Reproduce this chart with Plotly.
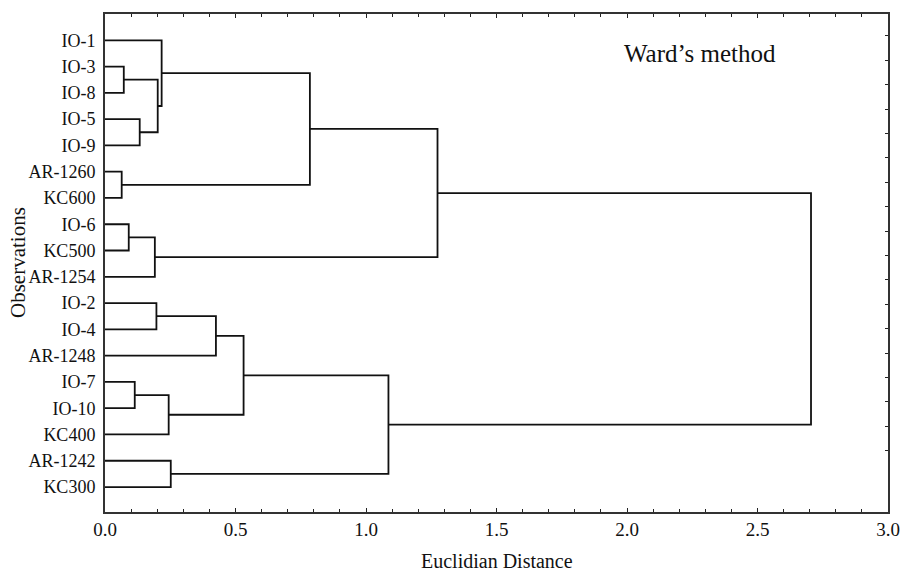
import plotly.graph_objects as go

# Leaves in display order (top to bottom)
leaves = ["IO-1", "IO-3", "IO-8", "IO-5", "IO-9", "AR-1260", "KC600", "IO-6", "KC500",
          "AR-1254", "IO-2", "IO-4", "AR-1248", "IO-7", "IO-10", "KC400", "AR-1242", "KC300"]

# Merges: (cluster name, left child, right child, Euclidean distance)
merge_names = ["A", "B", "C", "D", "E", "F", "G", "H", "I",
               "J", "K", "L", "M", "N", "O", "P", "ROOT"]
merge_left = ["IO-3", "IO-5", "A", "IO-1", "AR-1260", "D", "IO-6", "G", "F",
              "IO-2", "J", "IO-7", "L", "K", "AR-1242", "N", "I"]
merge_right = ["IO-8", "IO-9", "B", "C", "KC600", "E", "KC500", "AR-1254", "H",
               "IO-4", "AR-1248", "IO-10", "KC400", "M", "KC300", "O", "P"]
merge_height = [0.072, 0.133, 0.202, 0.217, 0.064, 0.785, 0.091, 0.191, 1.274,
                0.197, 0.425, 0.114, 0.244, 0.531, 0.252, 1.086, 2.705]

x_ticks = [0.0, 0.5, 1.0, 1.5, 2.0, 2.5, 3.0]
x_ticktext = ["0.0", "0.5", "1.0", "1.5", "2.0", "2.5", "3.0"]

# positions of nodes
pos = {name: i + 1 for i, name in enumerate(leaves)}
hgt = {name: 0.0 for name in leaves}
xs, ys = [], []
for name, l, r, h in zip(merge_names, merge_left, merge_right, merge_height):
    yl, yr = pos[l], pos[r]
    xs += [hgt[l], h, h, hgt[r], None]
    ys += [yl, yl, yr, yr, None]
    pos[name] = (yl + yr) / 2
    hgt[name] = h

fig = go.Figure()
fig.add_trace(go.Scatter(x=xs, y=ys, mode="lines",
                         line=dict(color="#111111", width=1.8),
                         hoverinfo="skip", showlegend=False))
# invisible trace on y2 for right-side tick marks
fig.add_trace(go.Scatter(x=[None], y=[None], yaxis="y2", showlegend=False))

font_serif = "Liberation Serif, Times New Roman, serif"

fig.update_layout(
    width=912, height=573,
    margin=dict(l=105, r=15, t=12, b=61),
    paper_bgcolor="white", plot_bgcolor="white",
    font=dict(family=font_serif, color="#111111"),
    xaxis=dict(range=[0, 3.0], tickvals=x_ticks, ticktext=x_ticktext,
               ticks="inside", ticklen=4, tickwidth=1.2, tickcolor="#222",
               minor=dict(dtick=0.1, ticks="inside", ticklen=3, tickcolor="#222"),
               showgrid=False, zeroline=False,
               showline=True, linecolor="#333", linewidth=2, mirror="ticks",
               tickfont=dict(size=19, family=font_serif), ticklabelstandoff=-1),
    yaxis=dict(range=[18.95, 0.0], tickvals=list(range(1, len(leaves) + 1)),
               ticktext=leaves, ticks="", showgrid=False, zeroline=False,
               showline=True, linecolor="#333", linewidth=2, mirror=True,
               tickfont=dict(size=18, family=font_serif), ticklabelstandoff=4),
    yaxis2=dict(overlaying="y", side="right", range=[20.41, 0.0],
                tickvals=[0.9 + k for k in range(18)], ticks="inside", ticklen=3,
                tickcolor="#222", showticklabels=False, showgrid=False,
                zeroline=False, showline=False),
    annotations=[
        dict(text="Ward’s method", xref="paper", yref="paper", x=(628 - 105) / 792, y=1 - 40 / 500,
             xanchor="left", yanchor="middle", showarrow=False,
             font=dict(size=25, family=font_serif, color="#111")),
        dict(text="Observations", xref="paper", yref="paper", x=-(105 - 17) / 792, y=0.5,
             xanchor="center", yanchor="middle", textangle=-90, showarrow=False,
             font=dict(size=21, family=font_serif, color="#111")),
        dict(text="Euclidian Distance", xref="paper", yref="paper", x=0.5, y=-(561 - 512) / 500,
             xanchor="center", yanchor="middle", showarrow=False,
             font=dict(size=20, family=font_serif, color="#111")),
    ],
)

fig.write_html("out.html")
